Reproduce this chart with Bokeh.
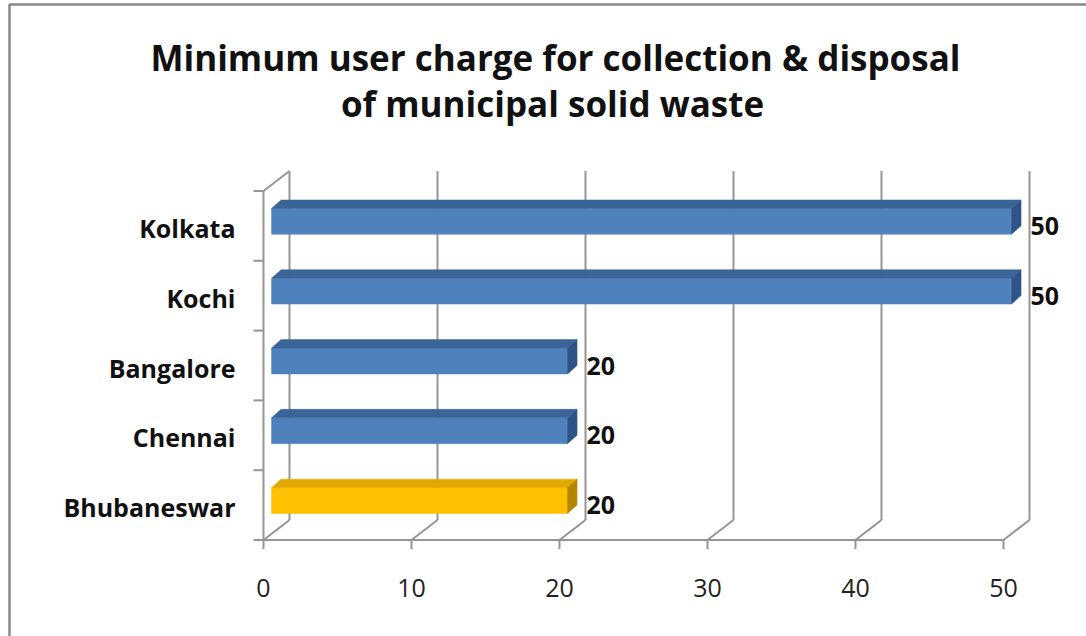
import numpy as np
from bokeh.plotting import figure
from bokeh.core.properties import value
from bokeh.embed import file_html
from bokeh.resources import INLINE

# ---------------- data ----------------
cities = ["Bhubaneswar", "Chennai", "Bangalore", "Kochi", "Kolkata"]   # bottom -> top
charges = [20, 20, 20, 50, 50]
highlighted = ["Bhubaneswar"]
x_ticks = [0, 10, 20, 30, 40, 50]
x_tick_labels = ["0", "10", "20", "30", "40", "50"]
title_lines = ["Minimum user charge for collection & disposal",
               "of municipal solid waste"]

# ---------------- geometry / style ----------------
W, H = 1086, 636
X0_PX, PX_PER_X = 263.0, 14.8      # pixel of value 0, pixels per unit
Y0_PX, PX_PER_Y = 539.5, 69.8      # pixel of category floor, pixels per category

def px2x(px):
    return (px - X0_PX) / PX_PER_X

def py2y(py):
    return (Y0_PX - py) / PX_PER_Y

DX, DY = 26 / PX_PER_X, 20 / PX_PER_Y        # wall depth
F1 = 0.31                                    # depth position of bar front face
BDX, BDY = 9.5 / PX_PER_X, 8.5 / PX_PER_Y    # bar depth
BAR_H = 0.37
BAR_DY = 0.065

GRID = "#959595"
FONT = "Open Sans"

p = figure(width=W, height=H, output_backend="svg", toolbar_location=None,
           x_range=(px2x(0), px2x(W)), y_range=(py2y(H), py2y(0)),
           x_axis_type=None, y_axis_type=None, min_border=0,
           background_fill_color="white", border_fill_color="white")
p.outline_line_color = None
p.grid.visible = False

n_cat = len(cities)
xmax = x_ticks[-1]

# back wall vertical gridlines
gx = [t + DX for t in x_ticks]
p.segment(x0=gx, y0=[DY] * len(gx), x1=gx, y1=[n_cat + DY] * len(gx),
          line_color=GRID, line_width=2)
# floor depth lines
p.segment(x0=x_ticks, y0=[0] * len(x_ticks), x1=gx, y1=[DY] * len(gx),
          line_color=GRID, line_width=2)
# left wall top depth line
p.segment(x0=[0], y0=[n_cat], x1=[DX], y1=[n_cat + DY], line_color=GRID, line_width=2)
# front axes
p.segment(x0=[0, 0], y0=[0, 0], x1=[xmax, 0], y1=[0, n_cat], line_color=GRID, line_width=2)
# ticks
p.ray(x=x_ticks, y=[0] * len(x_ticks), length=9, length_units="screen",
      angle=-np.pi / 2, line_color=GRID, line_width=2)
bounds = list(range(n_cat + 1))
p.ray(x=[0] * len(bounds), y=bounds, length=10, length_units="screen",
      angle=np.pi, line_color=GRID, line_width=2)

# bars (3D)
ox = F1 * DX
for i, (c, v) in enumerate(zip(cities, charges)):
    if c in highlighted:
        front, top_c, side = "#FFC000", "#E0A800", "#B38600"
    else:
        front, top_c, side = "#4F81BD", "#3B6498", "#2F5488"
    cy = i + 0.5 + BAR_DY
    b, t = cy - BAR_H / 2, cy + BAR_H / 2
    p.quad(left=[ox], right=[v + ox], bottom=[b], top=[t],
           fill_color=front, line_color=front, line_width=0.5)
    p.patch(x=[ox, v + ox, v + ox + BDX, ox + BDX], y=[t, t, t + BDY, t + BDY],
            fill_color=top_c, line_color=top_c, line_width=0.5)
    p.patch(x=[v + ox, v + ox + BDX, v + ox + BDX, v + ox],
            y=[b, b + BDY, t + BDY, t],
            fill_color=side, line_color=side, line_width=0.5)

# data labels
p.text(x=[v + DX for v in charges], y=[i + 0.5 for i in range(n_cat)],
       text=[str(v) for v in charges], text_align="left", text_baseline="middle",
       text_font=value(FONT), text_font_style="bold", text_font_size="25px",
       text_color="#111111", x_offset=1)

# category labels
p.text(x=[0] * n_cat, y=[i + 0.5 for i in range(n_cat)], text=cities,
       x_offset=-28, y_offset=2, text_align="right", text_baseline="middle",
       text_font=value(FONT), text_font_style="bold", text_font_size="25px",
       text_color="#111111")

# x tick labels
p.text(x=x_ticks, y=[0] * len(x_ticks), text=x_tick_labels, y_offset=48,
       text_align="center", text_baseline="middle",
       text_font=value(FONT), text_font_size="25px", text_color="#222222")

# title
p.text(x=[px2x(555), px2x(552)], y=[py2y(57), py2y(103)], text=title_lines,
       text_align="center", text_baseline="middle",
       text_font=value(FONT), text_font_style="bold", text_font_size="35px",
       text_color="#111111")

# outer border (left and top edges visible)
p.line(x=[px2x(9), px2x(9), px2x(W + 10)], y=[py2y(H + 10), py2y(4), py2y(4)],
       line_color="#8a8a8a", line_width=2.5)

open("out.html", "w").write(file_html(p, INLINE))
